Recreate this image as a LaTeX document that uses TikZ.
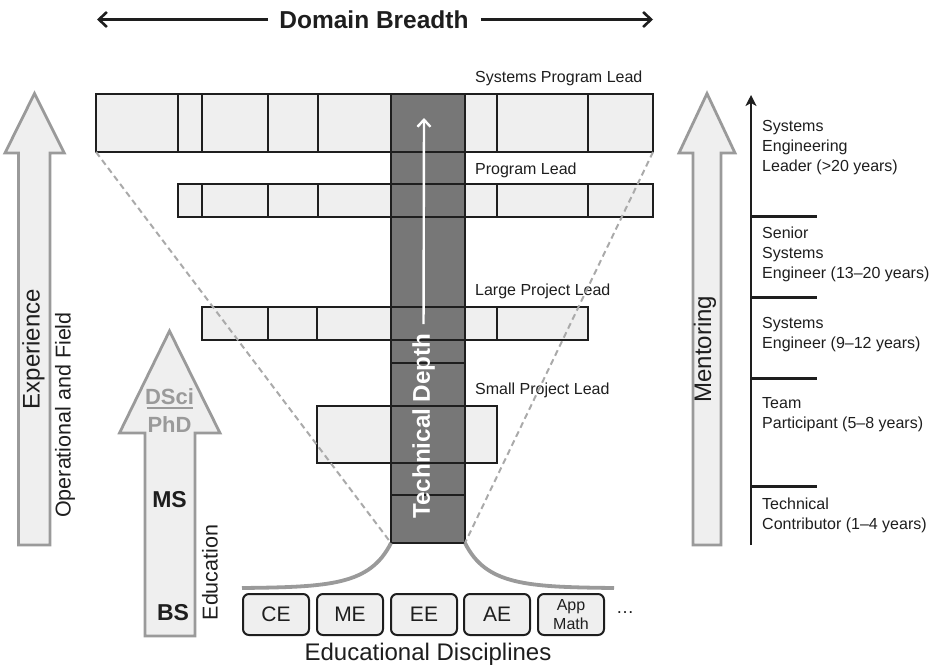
\documentclass[tikz,border=0pt]{standalone}
\usepackage{fontspec}
\setmainfont{Liberation Sans}
\usetikzlibrary{arrows.meta}
\definecolor{barfill}{HTML}{EFEFEF}
\definecolor{colfill}{HTML}{777777}
\definecolor{arrgray}{HTML}{9A9A9A}
\definecolor{dashgray}{HTML}{AAAAAA}
\definecolor{ink}{HTML}{1E1E1E}
\begin{document}
\begin{tikzpicture}[x=1pt,y=-1pt,
  barbox/.style={draw=ink,line width=2.8pt,fill=barfill},
  cellline/.style={draw=ink,line width=2.8pt},
  bigarrow/.style={draw=arrgray,line width=2.8pt,fill=barfill,line join=miter},
  lbl/.style={font=\fontsize{16}{20}\selectfont,text=ink,inner sep=0pt},
  ladder/.style={font=\fontsize{16}{20}\selectfont,text=ink,inner sep=0pt,align=left,anchor=north west},
  rottext/.style={rotate=90,inner sep=0pt,text=ink},
  disc/.style={draw=ink,line width=2pt,fill=barfill,rounded corners=6pt,minimum width=66pt,minimum height=41pt,inner sep=0pt,font=\fontsize{21}{24}\selectfont,text=ink},
  blackarrow/.style={draw=ink,line width=2.6pt,-{Straight Barb[length=8pt,width=15pt,line width=2.6pt]}},
  dashline/.style={draw=dashgray,line width=2pt,dash pattern=on 6pt off 4pt},
  bellline/.style={draw=arrgray,line width=3.8pt},
  degree/.style={inner sep=0pt,font=\bfseries\fontsize{22}{24}\selectfont}
]
\useasboundingbox (0,0) rectangle (939,669);

% ---- Domain Breadth ----
\node[inner sep=0pt,font=\bfseries\fontsize{24.5}{28}\selectfont,text=ink] (db) at (374,19.5) {Domain Breadth};
\coordinate (dbl) at (97,19.5);
\coordinate (dbr) at (653,19.5);
\draw[blackarrow,shorten <=11pt] (db.west) -- (dbl);
\draw[blackarrow,shorten <=12pt] (db.east) -- (dbr);

% ---- big gray arrows ----
\path[bigarrow] (34.5,93.5) -- (64.3,153) -- (50,153) -- (50,545) -- (18.5,545) -- (18.5,153) -- (5,153) -- cycle;
\path[bigarrow] (707,93.5) -- (735,153) -- (721,153) -- (721,545) -- (693,545) -- (693,153) -- (679,153) -- cycle;
\path[bigarrow] (169.5,331) -- (220,433) -- (195,433) -- (195,636) -- (145,636) -- (145,433) -- (119.5,433) -- cycle;

\node[rottext,font=\fontsize{24}{28}\selectfont] (exp) at (33.5,349) {Experience};
\node[rottext,font=\fontsize{21.5}{24}\selectfont] (opf) at (65,415) {Operational and Field};
\node[rottext,font=\fontsize{24}{28}\selectfont] (ment) at (705,349) {Mentoring};
\node[rottext,font=\fontsize{21.5}{24}\selectfont] (edu) at (210,572.5) {Education};

\node[degree,text=arrgray] (dsci) at (169.5,397) {DSci};
\draw[arrgray,line width=2.2pt] (146.7,408) -- (193.3,408);
\node[degree,text=arrgray] (phd) at (169.5,425) {PhD};
\node[degree,text=ink,font=\bfseries\fontsize{23}{26}\selectfont] (ms) at (169.5,500) {MS};
\node[degree,text=ink,font=\bfseries\fontsize{23}{26}\selectfont] (bs) at (173,613) {BS};

% ---- bars ----
\path[barbox] (96,94) rectangle (653,152);
\foreach \x in {178,202,268,318,497,588} \draw[cellline] (\x,94) -- (\x,152);
\path[barbox] (178,184) rectangle (653,217);
\foreach \x in {202,268,318,497,588} \draw[cellline] (\x,184) -- (\x,217);
\path[barbox] (202,307) rectangle (588,340);
\foreach \x in {268,317,497} \draw[cellline] (\x,307) -- (\x,340);
\path[barbox] (317,406) rectangle (497,463);

% ---- technical depth column ----
\path[fill=colfill] (391,94) rectangle (465,543);
\draw[cellline] (391,94) rectangle (465,543);
\draw[cellline] (96,94) rectangle (653,152);
\draw[cellline] (178,184) rectangle (653,217);
\draw[cellline] (202,307) rectangle (588,340);
\draw[cellline] (317,406) rectangle (497,463);
\draw[cellline] (391,363) -- (465,363);
\draw[cellline] (391,495) -- (465,495);

\node[rottext,text=white,font=\bfseries\fontsize{24.2}{28}\selectfont] (td) at (423.5,426) {Technical Depth};
\coordinate (tdtop) at (424,118);
\draw[white,line width=2.4pt,shorten <=9pt,-{Straight Barb[length=7pt,width=13pt,line width=2.4pt]}] (td.east) -- (tdtop);

% ---- bar labels ----
\node[lbl,anchor=base west] (spl) at (475,82.4) {Systems Program Lead};
\node[lbl,anchor=base west] (pl) at (475,174.7) {Program Lead};
\node[lbl,anchor=base west] (lpl) at (475,295.7) {Large Project Lead};
\node[lbl,anchor=base west] (smpl) at (475,394) {Small Project Lead};

% ---- dashed funnel ----
\coordinate (ftl) at (96,152);
\coordinate (ftr) at (653,152);
\coordinate (fbl) at (391,543);
\coordinate (fbr) at (465,543);
\draw[dashline] (ftl) -- (fbl);
\draw[dashline] (ftr) -- (fbr);

% ---- bell curve ----
\draw[bellline] (fbl) .. controls (370,585) and (330,587) .. (242,588);
\draw[bellline] (fbr) .. controls (486,585) and (526,587) .. (614,588);

% ---- disciplines ----
\node[disc] (ce) at (276,614.5) {CE};
\node[disc] (me) at (350,614.5) {ME};
\node[disc] (ee) at (424,614.5) {EE};
\node[disc] (ae) at (497,614.5) {AE};
\node[disc,align=center,font=\fontsize{16}{19}\selectfont] (am) at (571,614.5) {App\\Math};
\node[inner sep=0pt,anchor=base,font=\fontsize{18}{20}\selectfont,text=ink] (dots) at (625,613.5) {…};
\node[inner sep=0pt,font=\fontsize{24}{28}\selectfont,text=ink] (eddisc) at (428,654) {Educational Disciplines};

% ---- career ladder ----
\coordinate (tlb) at (751,545);
\coordinate (tlt) at (751,95);
\draw[ink,line width=2.8pt,-{Stealth[length=11pt,width=11pt,inset=3pt]}] (tlb) -- (tlt);
\foreach \y in {216.7,297.7,378.3,486.7} \draw[ink,line width=2.8pt] (751,\y) -- (817,\y);

\node[ladder] (sel) at (762,120.2) {Systems\\Engineering\\Leader (>20 years)};
\node[ladder] (sse) at (762,227.2) {Senior\\Systems\\Engineer (13–20 years)};
\node[ladder] (se) at (762,317.2) {Systems\\Engineer (9–12 years)};
\node[ladder] (tp) at (762,397.2) {Team\\Participant (5–8 years)};
\node[ladder] (tc) at (762,497.2) {Technical\\Contributor (1–4 years)};
\end{tikzpicture}
\end{document}
